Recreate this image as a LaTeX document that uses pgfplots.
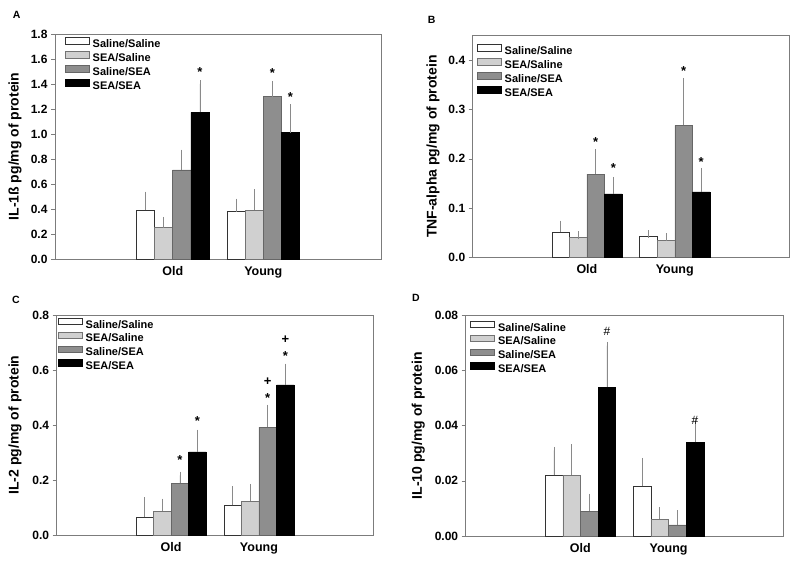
\documentclass[border=0pt]{standalone}
\usepackage{fontspec}
\setmainfont{Liberation Sans}
\usepackage{pgfplots}
\pgfplotsset{compat=1.18}
\definecolor{barlight}{HTML}{D0D0D0}
\definecolor{barmid}{HTML}{8E8E8E}
\definecolor{framegray}{HTML}{7C7C7C}
\definecolor{errgray}{HTML}{8A8A8A}

\pgfplotsset{
  panel/.style={
    scale only axis, anchor=south west, ybar, bar width=0.2,
    xmin=-0.3, xmax=3.3, ymin=0,
    xtick={1,2}, xticklabels={Old,Young},
    major x tick style={draw=none},
    x tick label style={font=\fontsize{12.5}{14}\selectfont\bfseries},
    y tick label style={font=\fontsize{12}{14}\selectfont\bfseries},
    /pgf/number format/assume math mode=true,
    /pgf/number format/fixed, /pgf/number format/fixed zerofill,
    /pgf/number format/precision=1,
    scaled y ticks=false,
    ytick pos=left, tick align=outside, major tick length=4pt,
    axis line style={framegray, line width=0.7pt},
    every tick/.style={framegray, line width=0.6pt},
    ylabel style={font=\fontsize{14}{16}\selectfont\bfseries, anchor=center},
    legend cell align=left,
    legend style={draw=none, fill=none, at={(0,1)}, anchor=north west,
      inner sep=0pt, row sep=0pt,
      font=\fontsize{11}{13}\selectfont\bfseries,
      nodes={inner xsep=3.5pt, inner ysep=0pt, text height=9.7pt, text depth=3.6pt}},
    legend image code/.code={\draw[#1] (0pt,0.3pt) rectangle (24pt,7pt);},
    error bars/y dir=plus, error bars/y explicit,
    error bars/error bar style={errgray, line width=0.6pt},
    error bars/error mark options={errgray, mark size=3.7pt, line width=0.6pt},
  },
  bSS/.style={fill=white, draw=black!80, line width=0.5pt, bar shift=-0.3},
  bES/.style={fill=barlight, draw=black!55, line width=0.5pt, bar shift=-0.1},
  bSE/.style={fill=barmid, draw=black!60, line width=0.5pt, bar shift=0.1},
  bEE/.style={fill=black, draw=black, line width=0.5pt, bar shift=0.3},
}
\tikzset{sigmark/.style={font=\fontsize{13}{14}\selectfont\bfseries}}

\begin{document}
\begin{tikzpicture}

% A: IL-1
\begin{axis}[panel, at={(55pt,307pt)}, width=326pt, height=225pt,
  ymax=1.8, ytick distance=0.2,
  ylabel={IL-1ß pg/mg of protein}, ylabel style={at={(axis description cs:-0.1227,0.5)}},
  legend style={xshift=9.5pt, yshift=-3pt}]
\addplot[bSS] coordinates {(1,0.392) +- (0,0.117) (2,0.379) +- (0,0.075)};
\addplot[bES] coordinates {(1,0.251) +- (0,0.056) (2,0.392) +- (0,0.138)};
\addplot[bSE] coordinates {(1,0.712) +- (0,0.134) (2,1.299) +- (0,0.096)};
\addplot[bEE] coordinates {(1,1.173) +- (0,0.227) (2,1.011) +- (0,0.197)};
\legend{Saline/Saline,SEA/Saline,Saline/SEA,SEA/SEA}
\node[sigmark, yshift=-2.7pt] at (axis cs:1.3,1.52) {*};
\node[sigmark, yshift=-2.7pt] at (axis cs:2.1,1.507) {*};
\node[sigmark, yshift=-2.7pt] at (axis cs:2.3,1.32) {*};
\end{axis}

% B: TNF-alpha
\begin{axis}[panel, at={(472.7pt,308.7pt)}, width=316.3pt, height=221.6pt,
  ymax=0.45, ytick={0,0.1,0.2,0.3,0.4},
  ylabel={TNF-alpha pg/mg of protein}, ylabel style={at={(axis description cs:-0.1255,0.5)}},
  legend style={xshift=3.8pt, yshift=-8.5pt}]
\addplot[bSS] coordinates {(1,0.051) +- (0,0.016) (2,0.043) +- (0,0.004)};
\addplot[bES] coordinates {(1,0.040) +- (0,0.005) (2,0.035) +- (0,0.006)};
\addplot[bSE] coordinates {(1,0.169) +- (0,0.043) (2,0.268) +- (0,0.089)};
\addplot[bEE] coordinates {(1,0.129) +- (0,0.027) (2,0.133) +- (0,0.041)};
\legend{Saline/Saline,SEA/Saline,Saline/SEA,SEA/SEA}
\node[sigmark, yshift=-2.7pt] at (axis cs:1.1,0.240) {*};
\node[sigmark, yshift=-2.7pt] at (axis cs:1.3,0.186) {*};
\node[sigmark, yshift=-2.7pt] at (axis cs:2.1,0.384) {*};
\node[sigmark, yshift=-2.7pt] at (axis cs:2.3,0.199) {*};
\end{axis}

% C: IL-2
\begin{axis}[panel, at={(56.7pt,30.7pt)}, width=316.6pt, height=220.3pt,
  ymax=0.8, ytick distance=0.2,
  ylabel={IL-2 pg/mg of protein}, ylabel style={at={(axis description cs:-0.1317,0.5)}},
  legend style={xshift=0.8pt, yshift=-2.5pt}]
\addplot[bSS] coordinates {(1,0.066) +- (0,0.058) (2,0.109) +- (0,0.055)};
\addplot[bES] coordinates {(1,0.088) +- (0,0.032) (2,0.123) +- (0,0.050)};
\addplot[bSE] coordinates {(1,0.189) +- (0,0.029) (2,0.393) +- (0,0.068)};
\addplot[bEE] coordinates {(1,0.303) +- (0,0.067) (2,0.546) +- (0,0.064)};
\legend{Saline/Saline,SEA/Saline,Saline/SEA,SEA/SEA}
\node[sigmark, yshift=-2.7pt] at (axis cs:1.1,0.283) {*};
\node[sigmark, yshift=-2.7pt] at (axis cs:1.3,0.426) {*};
\node[sigmark, yshift=-2.7pt] at (axis cs:2.1,0.507) {*};
\node[sigmark] at (axis cs:2.1,0.557) {+};
\node[sigmark, yshift=-2.7pt] at (axis cs:2.3,0.662) {*};
\node[sigmark] at (axis cs:2.3,0.710) {+};
\end{axis}

% D: IL-10
\begin{axis}[panel, at={(465.7pt,30pt)}, width=317.6pt, height=220.7pt,
  ymax=0.08, ytick={0,0.02,0.04,0.06,0.08},
  /pgf/number format/precision=2,
  ylabel={IL-10 pg/mg of protein}, ylabel style={at={(axis description cs:-0.149,0.5)}},
  legend style={xshift=4.1pt, yshift=-5.2pt}]
\addplot[bSS] coordinates {(1,0.022) +- (0,0.009) (2,0.018) +- (0,0.009)};
\addplot[bES] coordinates {(1,0.022) +- (0,0.010) (2,0.006) +- (0,0.003)};
\addplot[bSE] coordinates {(1,0.009) +- (0,0.005) (2,0.004) +- (0,0.004)};
\addplot[bEE] coordinates {(1,0.054) +- (0,0.015) (2,0.034) +- (0,0.007)};
\legend{Saline/Saline,SEA/Saline,Saline/SEA,SEA/SEA}
\node[font=\fontsize{12}{14}\selectfont] at (axis cs:1.3,0.0742) {\#};
\node[font=\fontsize{12}{14}\selectfont] at (axis cs:2.3,0.0419) {\#};
\end{axis}

\node[font=\fontsize{10.5}{12}\selectfont\bfseries] at (16.7pt,551pt) {A};
\node[font=\fontsize{10.5}{12}\selectfont\bfseries] at (431.7pt,546pt) {B};
\node[font=\fontsize{10.5}{12}\selectfont\bfseries] at (16pt,266.3pt) {C};
\node[font=\fontsize{10.5}{12}\selectfont\bfseries] at (416pt,268pt) {D};

\pgfresetboundingbox
\useasboundingbox (0pt,0pt) rectangle (800pt,566pt);
\end{tikzpicture}
\end{document}
